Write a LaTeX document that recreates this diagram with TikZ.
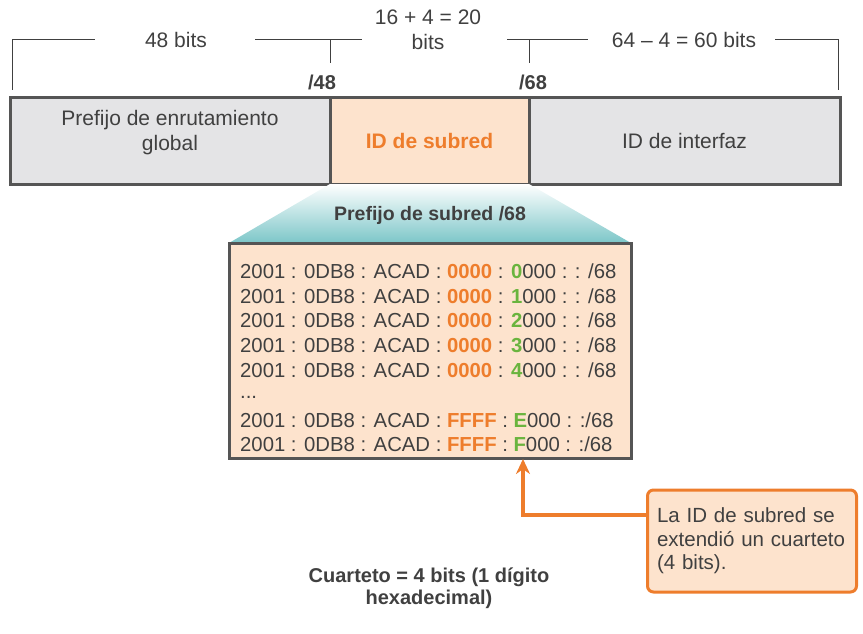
\documentclass[tikz,border=0pt]{standalone}
\usepackage{fontspec}
\setmainfont{Liberation Sans}
\usetikzlibrary{positioning, arrows.meta}
\definecolor{peach}{HTML}{FDE3CD}
\definecolor{cellgray}{HTML}{E4E4E6}
\definecolor{framegray}{HTML}{555555}
\definecolor{txtgray}{HTML}{404040}
\definecolor{ciscoorange}{HTML}{EE7D2C}
\definecolor{hexgreen}{HTML}{6AB43E}
\definecolor{funnelteal}{HTML}{7CC6C8}

\begin{document}
\begin{tikzpicture}[x=1pt, y=-1pt,
    cell/.style={rectangle, draw=framegray, line width=3pt, minimum height=86pt,
      inner sep=0pt, align=center, text=txtgray, font=\fontsize{21}{25}\selectfont},
    lbl/.style={align=center, text=txtgray, font=\fontsize{21}{25}\selectfont},
    mark48/.style={text=txtgray, font=\bfseries\fontsize{20}{24}\selectfont},
    bracket/.style={draw=txtgray, line width=1pt},
    addr/.style={anchor=west, inner sep=0pt, text=txtgray, font=\fontsize{20.3}{24}\selectfont},
    callout/.style={rectangle, draw=ciscoorange, line width=3pt, rounded corners=6pt,
      fill=peach, minimum width=209pt, minimum height=102pt, align=left,
      text width=190pt, text=txtgray, font=\fontsize{20.5}{23.5}\selectfont},
    arrow/.style={-{Stealth[length=15pt, width=14pt]}, ciscoorange, line width=4pt},
  ]
    \useasboundingbox (0,0) rectangle (863,634);

    % address bar
    \node[cell, fill=cellgray, minimum width=320pt] (global) at (170,141)
      {Prefijo de enrutamiento\\global\\[-4pt]\phantom{x}};
    \node[cell, fill=peach, minimum width=199pt] (subnet) at (429.5,141)
      {\textcolor{ciscoorange}{\bfseries ID de subred}};
    \node[cell, fill=cellgray, minimum width=311pt] (iface) at (684.5,141) {ID de interfaz};

    % bit counts above
    \node[lbl] (bits48) at (176,40) {48 bits};
    \node[lbl] (bits20) at (428,29.5) {16 + 4 = 20\\bits};
    \node[lbl] (bits60) at (684,40) {64 -- 4 = 60 bits};
    \node[mark48] (p48) at (322,82) {/48};
    \node[mark48] (p68) at (533,82) {/68};
    \draw[bracket] (12,90) |- (95,40);
    \draw[bracket] (255,40) -- (362,40);
    \draw[bracket] (330,63) -- (330,40);
    \draw[bracket] (507,40) -- (588,40);
    \draw[bracket] (529,63) -- (529,40);
    \draw[bracket] (838,90) |- (775,40);

    % subnet prefix funnel
    \shade[top color=white, bottom color=funnelteal]
      (330,184) -- (529,184) -- (631,243) -- (229,243) -- cycle;
    \node[text=txtgray, font=\bfseries\fontsize{19.5}{23}\selectfont] (pref) at (430,215)
      {Prefijo de subred /68};

    % list of subnets
    \node[rectangle, draw=framegray, line width=3pt, fill=peach,
      minimum width=402pt, minimum height=215pt] (list) at (430,350.5) {};
    \foreach \row/\o/\g/\s in {0/0000/0/{: : /68}, 1/0000/1/{: : /68}, 2/0000/2/{: : /68},
        3/0000/3/{: : /68}, 4/0000/4/{: : /68}, 6/FFFF/E/{: :/68}, 7/FFFF/F/{: :/68}}
      \node[addr] (a\row) at (240,271+24.8*\row)
        {2001 : 0DB8 : ACAD : \textcolor{ciscoorange}{\bfseries\o} :
         \textcolor{hexgreen}{\bfseries\g}000 \s};
    \node[addr] (dots) at (240,397) {...};

    % callout
    \node[callout] (note) at (752,541)
      {La ID de subred se\\extendió un cuarteto\\(4 bits).};
    \coordinate (tip) at (523,459);
    \draw[arrow] ([yshift=26pt]note.west) -| (tip);

    \node[align=center, text=txtgray, font=\bfseries\fontsize{20}{22}\selectfont] (quartet)
      at (429,588) {Cuarteto = 4 bits (1 dígito\\hexadecimal)};
  \end{tikzpicture}
\end{document}
